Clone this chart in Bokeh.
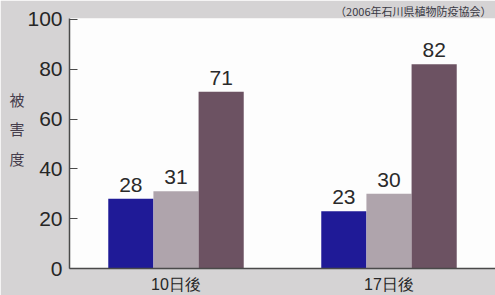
from bokeh.plotting import figure
from bokeh.models import ColumnDataSource, FactorRange, Range1d, FixedTicker
from bokeh.transform import dodge
from bokeh.core.properties import value
from bokeh.embed import file_html
from bokeh.resources import INLINE

categories = ["10日後", "17日後"]
series_a = [28, 23]
series_b = [31, 30]
series_c = [71, 82]
y_ticks = [0, 20, 40, 60, 80, 100]
y_title = "被\n害\n度\n "
source_note = "（2006年石川県植物防疫協会）"

colors = ["#1f1a97", "#afa4ac", "#6c5262"]

src = ColumnDataSource(dict(cat=categories, a=series_a, b=series_b, c=series_c,
                            la=[str(v) for v in series_a],
                            lb=[str(v) for v in series_b],
                            lc=[str(v) for v in series_c]))

W, H = 495, 295
p = figure(width=W, height=H, x_range=FactorRange(*categories, range_padding=0),
           y_range=Range1d(0, 100.4), output_backend="svg", toolbar_location=None,
           min_border_left=69, min_border_right=0, min_border_top=0, min_border_bottom=25)
p.background_fill_color = "#fdfdfd"
p.border_fill_color = "#d5d3d4"
p.outline_line_color = None
p.grid.visible = False

p.title.text = source_note
p.title.align = "right"
p.title.text_font = "Noto Sans CJK JP"
p.title.text_font_size = "11px"
p.title.text_font_style = "normal"
p.title.text_color = "#3a3a44"
p.title.standoff = 0
p.title.offset = 4

w = 0.212
for off, col, lab, c in [(-w, "a", "la", colors[0]), (0, "b", "lb", colors[1]), (w, "c", "lc", colors[2])]:
    p.vbar(x=dodge("cat", off, range=p.x_range), top=col, width=w, source=src,
           fill_color=c, line_color=None)
    p.text(x=dodge("cat", off, range=p.x_range), y=col, text=lab, source=src,
           text_align="center", text_baseline="bottom", y_offset=-7,
           text_font_size="21px", text_color="#2a2a2a", text_font=value("Liberation Sans"))

p.yaxis.ticker = FixedTicker(ticks=y_ticks)
p.yaxis.major_tick_in = 8
p.yaxis.major_tick_out = 0
p.yaxis.minor_tick_line_color = None
p.yaxis.axis_line_color = "#4a4a4a"
p.yaxis.axis_line_width = 1.5
p.yaxis.major_tick_line_color = "#4a4a4a"
p.yaxis.major_label_text_font = "Liberation Sans"
p.yaxis.major_label_text_font_size = "21px"
p.yaxis.major_label_text_color = "#262626"
p.yaxis.major_label_standoff = 7
p.yaxis.axis_label = y_title
p.yaxis.axis_label_orientation = "horizontal"
p.yaxis.axis_label_text_font = "Noto Sans CJK JP"
p.yaxis.axis_label_text_font_size = "15px"
p.yaxis.axis_label_text_font_style = "normal"
p.yaxis.axis_label_text_color = "#463d4c"
p.yaxis.axis_label_text_line_height = 1.4
p.yaxis.axis_label_standoff = 0

p.xaxis.major_tick_line_color = None
p.xaxis.major_tick_out = 0
p.xaxis.major_tick_in = 0
p.xaxis.axis_line_color = "#4a4a4a"
p.xaxis.axis_line_width = 1.5
p.xaxis.major_label_text_font = "Liberation Sans"
p.xaxis.major_label_text_font_size = "16px"
p.xaxis.major_label_text_color = "#262626"
p.xaxis.major_label_standoff = 7

open("out.html", "w").write(file_html(p, INLINE))
